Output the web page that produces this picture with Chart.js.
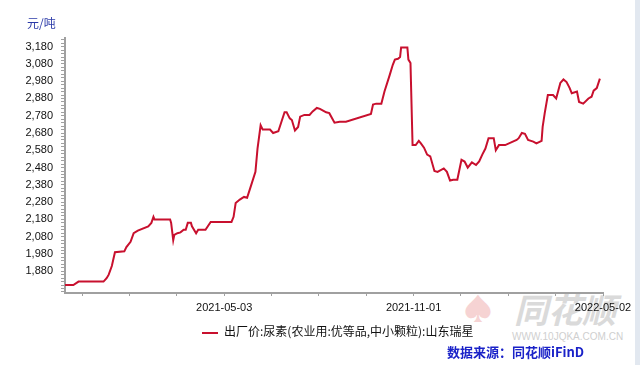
<!DOCTYPE html>
<html>
<head>
<meta charset="utf-8">
<script src="https://cdn.jsdelivr.net/npm/chart.js@4.4.0/dist/chart.umd.min.js"></script>
<style>
    body { margin: 0; background: #fff; }
    #wrap { position: relative; width: 640px; height: 365px; overflow: hidden; font-family: "Noto Sans CJK SC", sans-serif; }
    #grafica { position: absolute; left: 0; top: 0; }
    .unidad { position: absolute; left: 27px; top: 14px; font-size: 12px; color: #2b3aa8; }
    .marca { position: absolute; left: 514px; top: 292px; font-size: 34px; line-height: 34px; font-weight: bold; font-style: italic; color: #dadada; letter-spacing: 0px; }
    .marca-url { position: absolute; left: 512px; top: 331px; font-family: "Liberation Sans", sans-serif; font-size: 10px; color: #cfcfcf; }
    .marca-pica { position: absolute; left: 463px; top: 292px; font-size: 30px; line-height: 30px; color: #f6d3d3; }
    .leyenda { position: absolute; left: 202px; top: 322px; font-size: 12px; color: #111; white-space: nowrap; }
    .leyenda i { display: inline-block; width: 16px; height: 2px; margin-right: 6px; vertical-align: middle; }
    .fuente { position: absolute; left: 447px; top: 342px; font-size: 13px; font-weight: bold; color: #1a22c8; white-space: nowrap; }
    .barra { position: absolute; right: 0; top: 0; width: 5px; height: 365px; background: #e2e8f0; }
</style>
</head>
<body>
<div id="wrap">
    <div class="marca-pica">♠</div>
    <div class="marca">同花顺</div>
    <div class="marca-url">WWW.10JQKA.COM.CN</div>
    <canvas id="grafica" width="640" height="365"></canvas>
    <div class="unidad">元/吨</div>
    <div class="leyenda" id="leyenda"></div>
    <div class="fuente">数据来源：同花顺iFinD</div>
    <div class="barra"></div>
</div>
<script>
// --- DATOS ---
const seriesName = '出厂价:尿素(农业用:优等品,中小颗粒):山东瑞星';
const dates = [
    '2020-12-01', '2020-12-09', '2020-12-14', '2021-01-07', '2021-01-10', '2021-01-12', '2021-01-15', '2021-01-18',
    '2021-01-27', '2021-01-29', '2021-02-02', '2021-02-05', '2021-02-09', '2021-02-19', '2021-02-22', '2021-02-24',
    '2021-02-25', '2021-03-12', '2021-03-13', '2021-03-15', '2021-03-16', '2021-03-19', '2021-03-22', '2021-03-25',
    '2021-03-27', '2021-03-29', '2021-04-01', '2021-04-02', '2021-04-06', '2021-04-08', '2021-04-15', '2021-04-20',
    '2021-05-10', '2021-05-12', '2021-05-14', '2021-05-18', '2021-05-22', '2021-05-25', '2021-05-29', '2021-06-02',
    '2021-06-04', '2021-06-07', '2021-06-09', '2021-06-16', '2021-06-19', '2021-06-24', '2021-06-27', '2021-06-30',
    '2021-07-02', '2021-07-05', '2021-07-07', '2021-07-10', '2021-07-13', '2021-07-15', '2021-07-19', '2021-07-24',
    '2021-07-27', '2021-07-31', '2021-08-03', '2021-08-06', '2021-08-09', '2021-08-12', '2021-08-17', '2021-08-22',
    '2021-08-28', '2021-09-21', '2021-09-23', '2021-09-26', '2021-10-01', '2021-10-04', '2021-10-09', '2021-10-12',
    '2021-10-14', '2021-10-17', '2021-10-19', '2021-10-20', '2021-10-26', '2021-10-27', '2021-10-29', '2021-10-31',
    '2021-11-03', '2021-11-06', '2021-11-08', '2021-11-11', '2021-11-14', '2021-11-17', '2021-11-21', '2021-11-24',
    '2021-11-30', '2021-12-03', '2021-12-06', '2021-12-09', '2021-12-13', '2021-12-17', '2021-12-20', '2021-12-23',
    '2021-12-27', '2021-12-31', '2022-01-03', '2022-01-06', '2022-01-09', '2022-01-12', '2022-01-17', '2022-01-19',
    '2022-01-22', '2022-01-28', '2022-02-08', '2022-02-10', '2022-02-13', '2022-02-16', '2022-02-19', '2022-02-24',
    '2022-02-27', '2022-03-04', '2022-03-05', '2022-03-07', '2022-03-10', '2022-03-15', '2022-03-18', '2022-03-22',
    '2022-03-25', '2022-03-28', '2022-03-31', '2022-04-02', '2022-04-07', '2022-04-09', '2022-04-13', '2022-04-18',
    '2022-04-21', '2022-04-23', '2022-04-26', '2022-04-29'
];
const prices = [
    1800, 1800, 1820, 1820, 1840, 1860, 1910, 1990,
    1995, 2020, 2050, 2100, 2115, 2140, 2160, 2195,
    2180, 2180, 2160, 2060, 2090, 2100, 2105, 2120,
    2120, 2160, 2160, 2140, 2100, 2120, 2120, 2165,
    2165, 2195, 2275, 2295, 2310, 2305, 2380, 2455,
    2590, 2725, 2700, 2700, 2680, 2690, 2745, 2800,
    2800, 2765, 2755, 2695, 2715, 2775, 2785, 2785,
    2805, 2825, 2820, 2810, 2800, 2795, 2740, 2745,
    2745, 2790, 2845, 2850, 2850, 2920, 3015, 3075,
    3105, 3110, 3120, 3175, 3175, 3105, 3085, 2610,
    2610, 2635, 2620, 2595, 2555, 2545, 2460, 2455,
    2475, 2455, 2405, 2410, 2410, 2525, 2515, 2480,
    2510, 2495, 2515, 2555, 2590, 2650, 2650, 2580,
    2610, 2610, 2640, 2650, 2680, 2675, 2640, 2630,
    2620, 2635, 2715, 2795, 2900, 2900, 2880, 2970,
    2990, 2975, 2940, 2910, 2920, 2860, 2850, 2880,
    2890, 2925, 2940, 2995
];
const yTickLabels = [1880, 1980, 2080, 2180, 2280, 2380, 2480, 2580, 2680, 2780, 2880, 2980, 3080, 3180];
const xTickLabels = ['2021-05-03', '2021-11-01', '2022-05-02'];
const xStart = '2020-12-01';

document.addEventListener('DOMContentLoaded', function () {
    const toDay = s => Date.parse(s + 'T00:00:00Z') / 86400000;
    const xMin = toDay(xStart);
    const xMax = toDay(xTickLabels[xTickLabels.length - 1]);
    const ejeColor = '#a0a0a0';

    const ctx = document.getElementById('grafica').getContext('2d');
    const chart = new Chart(ctx, {
        type: 'line',
        data: {
            datasets: [{
                label: seriesName,
                data: dates.map((d, i) => ({ x: toDay(d), y: prices[i] })),
                borderColor: '#c8102e',
                borderWidth: 2,
                pointRadius: 0,
                tension: 0,
                fill: false
            }]
        },
        options: {
            responsive: false,
            animation: false,
            layout: { padding: { left: 0, top: 38, right: 37, bottom: 42 } },
            plugins: { legend: { display: false }, tooltip: { enabled: false } },
            scales: {
                x: {
                    type: 'linear',
                    min: xMin,
                    max: xMax,
                    afterBuildTicks: scale => {
                        const t = [];
                        for (let v = xMax; v >= xMin; v -= 45.5) t.unshift({ value: v });
                        scale.ticks = t;
                    },
                    afterFit: scale => { scale.height = 30; },
                    border: { color: ejeColor, width: 2 },
                    grid: { drawOnChartArea: false, tickLength: 3, tickColor: ejeColor },
                    ticks: {
                        autoSkip: false,
                        maxRotation: 0,
                        padding: 5,
                        color: '#111',
                        font: { family: 'Liberation Sans', size: 11 },
                        callback: v => {
                            const hit = xTickLabels.find(s => toDay(s) === v);
                            return hit || '';
                        }
                    }
                },
                y: {
                    min: 1754,
                    max: 3230,
                    afterBuildTicks: scale => {
                        const t = [];
                        for (let v = 1760; v <= 3220; v += 20) t.push({ value: v });
                        scale.ticks = t;
                    },
                    afterFit: scale => { scale.width = 65; },
                    border: { color: ejeColor, width: 2 },
                    grid: { drawOnChartArea: false, tickLength: 4, tickColor: ejeColor },
                    ticks: {
                        autoSkip: false,
                        padding: 8,
                        color: '#111',
                        font: { family: 'Liberation Sans', size: 11 },
                        callback: v => yTickLabels.includes(v) ? v.toLocaleString('en-US') : ''
                    }
                }
            }
        }
    });

    // leyenda HTML a partir del dataset
    const ds = chart.data.datasets[0];
    document.getElementById('leyenda').innerHTML =
        '<i style="background:' + ds.borderColor + '"></i>' + ds.label;
});
</script>
</body>
</html>
